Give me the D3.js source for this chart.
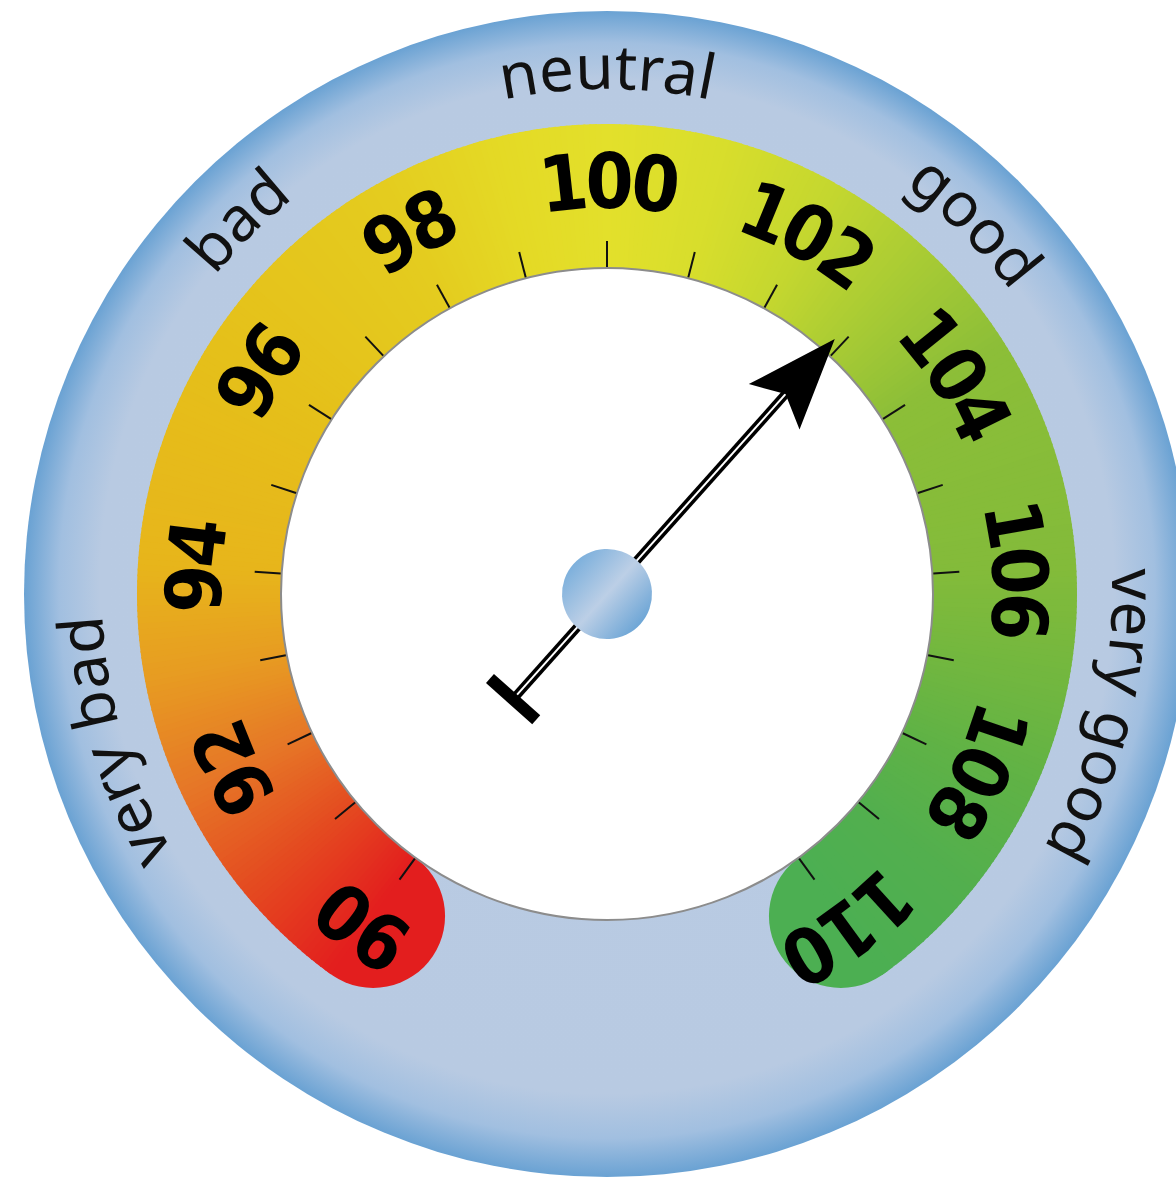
<!DOCTYPE html>
<html>
<head>
<meta charset="utf-8">
<script src="https://cdn.jsdelivr.net/npm/d3@7"></script>
<style>
  body { margin: 0; background: #fff; }
  svg { display: block; }
</style>
</head>
<body>
<div id="chart"></div>
<script>
// gauge data
var tickValues = d3.range(90, 111, 1);
var labelValues = [90, 92, 94, 96, 98, 100, 102, 104, 106, 108, 110];
var zoneNames = ["very bad", "bad", "neutral", "good", "very good"];
var zoneValues = [92.6, 96.9, 100, 103.1, 107.2];
var needleValue = 102.9;

// colour stops along the band
var bandStops = [90, 91, 92, 93, 94, 96, 98, 99, 100, 101, 102, 103, 104, 106, 107, 108, 109, 110];
var bandColors = ["#e31e1e", "#e44a20", "#e67627", "#e79b22", "#e7b51b", "#e5c01a", "#e4cc1f", "#e4d925",
                  "#e3e02b", "#d8de2c", "#c5d72f", "#a8cb34", "#8cbe38", "#83bb3a", "#72b73f", "#5fb246",
                  "#52af4e", "#4caf52"];

var width = 1176, height = 1177;
var cx = 607, cy = 594;
var rOuter = 583, rBandOut = 470, rBandIn = 326, rNum = 386, rZone = 505;

var angle = d3.scaleLinear().domain([90, 110]).range([-144, 144]);
var color = d3.scaleLinear().domain(bandStops).range(bandColors).interpolate(d3.interpolateRgb);
var rad = function (deg) { return deg * Math.PI / 180; };
var polar = function (r, deg) { return [cx + r * Math.sin(rad(deg)), cy - r * Math.cos(rad(deg))]; };

var svg = d3.select("#chart").append("svg")
    .attr("width", width)
    .attr("height", height);

var defs = svg.append("defs");

var ringGrad = defs.append("radialGradient")
    .attr("id", "ringGrad")
    .attr("cx", "50%").attr("cy", "50%").attr("r", "50%")
    .attr("fx", "50%").attr("fy", "45%");
[[0, "#b9cbe3"], [0.87, "#b8cae2"], [0.94, "#a1bfe0"], [1, "#6aa2d3"]].forEach(function (s) {
    ringGrad.append("stop").attr("offset", s[0]).attr("stop-color", s[1]);
});

var hubGrad = defs.append("linearGradient")
    .attr("id", "hubGrad")
    .attr("x1", "0%").attr("y1", "0%").attr("x2", "100%").attr("y2", "0%");
[[0, "#7db0dc"], [0.5, "#bccfe6"], [1, "#6ea6d6"]].forEach(function (s) {
    hubGrad.append("stop").attr("offset", s[0]).attr("stop-color", s[1]);
});

// circular text paths, starting at the bottom and running clockwise
function circlePath(r) {
    var p = d3.path();
    p.moveTo(cx, cy + r);
    p.arc(cx, cy, r, Math.PI / 2, Math.PI / 2 + 2 * Math.PI - 1e-6);
    return p.toString();
}
defs.append("path").attr("id", "numPath").attr("d", circlePath(rNum));
defs.append("path").attr("id", "zonePath").attr("d", circlePath(rZone));
var offset = function (deg) { return ((deg + 180) / 360 * 100) + "%"; };

// outer blue disc
svg.append("circle")
    .attr("cx", cx).attr("cy", cy).attr("r", rOuter)
    .attr("fill", "url(#ringGrad)");

// coloured band: round ends then thin slices
var band = svg.append("g");
var rMid = (rBandIn + rBandOut) / 2, capR = (rBandOut - rBandIn) / 2;
[90, 110].forEach(function (v) {
    var p = polar(rMid, angle(v));
    band.append("circle").attr("cx", p[0]).attr("cy", p[1]).attr("r", capR).attr("fill", color(v));
});

var step = 0.05;
var slice = d3.arc().innerRadius(rBandIn - 2).outerRadius(rBandOut);
band.append("g")
    .attr("transform", "translate(" + cx + "," + cy + ")")
    .selectAll("path")
    .data(d3.range(90, 110, step))
    .enter().append("path")
    .attr("d", function (v) {
        return slice({ startAngle: rad(angle(v)), endAngle: rad(angle(v + step)) + 0.004 });
    })
    .attr("fill", function (v) { return color(v + step / 2); });

// white face
svg.append("circle")
    .attr("cx", cx).attr("cy", cy).attr("r", rBandIn)
    .attr("fill", "#fff")
    .attr("stroke", "#8c8c8c")
    .attr("stroke-width", 2);

// ticks
svg.append("g")
    .attr("transform", "translate(" + cx + "," + cy + ")")
    .selectAll("line")
    .data(tickValues)
    .enter().append("line")
    .attr("x1", 0).attr("x2", 0)
    .attr("y1", -(rBandIn + 1))
    .attr("y2", -(rBandIn + 27))
    .attr("stroke", "#111")
    .attr("stroke-width", 2)
    .attr("transform", function (v) { return "rotate(" + angle(v) + ")"; });

// number labels on the band
svg.append("g").selectAll("text")
    .data(labelValues)
    .enter().append("text")
    .attr("font-family", "'DejaVu Sans Condensed', 'DejaVu Sans', sans-serif")
    .attr("font-weight", "bold")
    .attr("font-size", 77)
    .attr("letter-spacing", -5)
    .attr("fill", "#000")
    .append("textPath")
    .attr("href", "#numPath")
    .attr("startOffset", function (v) { return offset(angle(v)); })
    .attr("text-anchor", "middle")
    .text(function (v) { return v; });

// zone names in the blue ring
svg.append("g").selectAll("text")
    .data(zoneNames)
    .enter().append("text")
    .attr("font-family", "'Noto Sans', sans-serif")
    .attr("font-size", 62)
    .attr("fill", "#111")
    .append("textPath")
    .attr("href", "#zonePath")
    .attr("startOffset", function (d, i) { return offset(angle(zoneValues[i])); })
    .attr("text-anchor", "middle")
    .text(function (d) { return d; });

// needle
var needle = svg.append("g")
    .attr("transform", "translate(" + cx + "," + cy + ") rotate(" + angle(needleValue) + ")");

needle.append("line")
    .attr("x1", 0).attr("y1", 140).attr("x2", 0).attr("y2", -272)
    .attr("stroke", "#000").attr("stroke-width", 9);
needle.append("line")
    .attr("x1", 0).attr("y1", 140).attr("x2", 0).attr("y2", -272)
    .attr("stroke", "#fff").attr("stroke-width", 2);

needle.append("path")
    .attr("d", "M0,-342 L-34,-251 L0,-268 L34,-251 Z")
    .attr("fill", "#000");

needle.append("rect")
    .attr("x", -31).attr("y", 135).attr("width", 62).attr("height", 12)
    .attr("fill", "#000");

needle.append("circle")
    .attr("r", 45)
    .attr("fill", "url(#hubGrad)");
</script>
</body>
</html>
